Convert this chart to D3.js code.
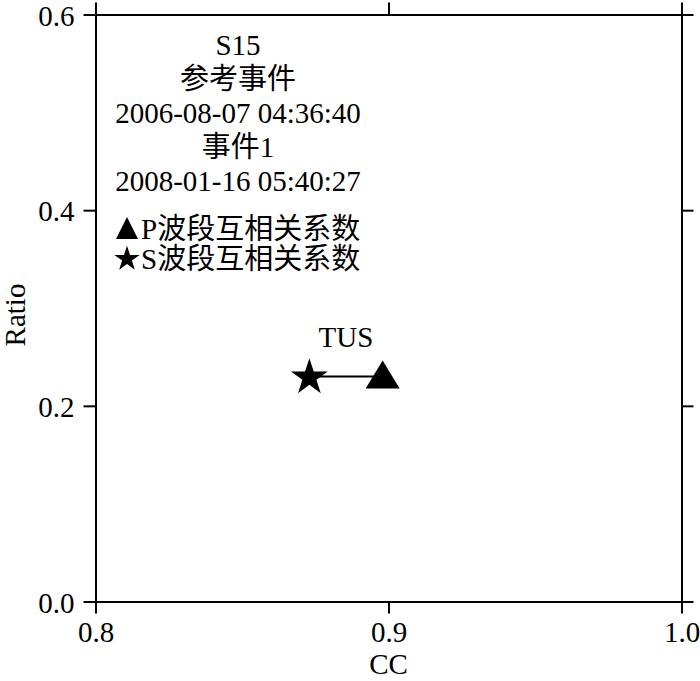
<!DOCTYPE html>
<html>
<head>
<meta charset="utf-8">
<script src="https://cdn.jsdelivr.net/npm/d3@7"></script>
<style>
  body { margin: 0; background: #fff; }
  text { font-family: "Liberation Serif", "Times New Roman", "Noto Sans CJK SC", serif; fill: #000; }
</style>
</head>
<body>
<div id="chart"></div>
<script>
// station values
var stations = ["TUS"];
var ccP = [0.898];     // P wave cross-correlation
var ccS = [0.873];     // S wave cross-correlation
var ratio = [0.230];

var xTicks = [0.8, 0.9, 1.0];
var yTicks = [0.0, 0.2, 0.4, 0.6];

var infoLines = ["S15", "参考事件", "2006-08-07 04:36:40", "事件1", "2008-01-16 05:40:27"];
var legendLabels = ["P波段互相关系数", "S波段互相关系数"];

// set the dimensions and margins of the graph
var margin = { top: 14.5, right: 18.5, bottom: 79.5, left: 95.5 },
  width = 700 - margin.left - margin.right,
  height = 681 - margin.top - margin.bottom;

var svg = d3.select("#chart")
  .append("svg")
  .attr("width", 700)
  .attr("height", 681)
  .append("g")
  .attr("transform", "translate(" + margin.left + "," + margin.top + ")");

var x = d3.scaleLinear().domain([0.8, 1.0]).range([0, width]);
var y = d3.scaleLinear().domain([0, 0.6]).range([height, 0]);

var fmt = d3.format(".1f");
var fs = "29px";

function styleAxis(g) {
  g.select(".domain").attr("stroke-width", 2);
  g.selectAll(".tick line").attr("stroke-width", 2);
  g.selectAll(".tick text").style("font-size", fs)
    .style("font-family", "'Liberation Serif', 'Times New Roman', serif");
}

// bottom / left with labels
svg.append("g")
  .attr("transform", "translate(0," + height + ")")
  .call(d3.axisBottom(x).tickValues(xTicks).tickFormat(fmt).tickSize(12).tickSizeOuter(0))
  .call(styleAxis)
  .selectAll(".tick text").attr("y", 40).attr("dy", 0);

svg.append("g")
  .call(d3.axisLeft(y).tickValues(yTicks).tickFormat(fmt).tickSize(12).tickSizeOuter(0).tickPadding(9))
  .call(styleAxis)
  .selectAll(".tick text").attr("dy", "0.37em");

// top / right frame, ticks only
svg.append("g")
  .call(d3.axisTop(x).tickValues(xTicks).tickFormat("").tickSize(12).tickSizeOuter(0))
  .call(styleAxis);

svg.append("g")
  .attr("transform", "translate(" + width + ",0)")
  .call(d3.axisRight(y).tickValues(yTicks).tickFormat("").tickSize(12).tickSizeOuter(0))
  .call(styleAxis);

// axis titles
svg.append("text")
  .attr("x", width / 2)
  .attr("y", height + 72.5)
  .attr("text-anchor", "middle")
  .style("font-size", fs)
  .text("CC");

svg.append("text")
  .attr("transform", "translate(" + (25 - margin.left) + "," + (height / 2 + 7) + ") rotate(-90)")
  .attr("text-anchor", "middle")
  .style("font-size", fs)
  .text("Ratio");

// marker shapes
var triPath = "M0,-16L17,12L-17,12Z";
var starPath = d3.symbol().type(d3.symbolStar).size(420)();

// connecting lines
svg.selectAll(".pair")
  .data(stations)
  .enter()
  .append("line")
  .attr("class", "pair")
  .attr("x1", function (d, i) { return x(ccS[i]); })
  .attr("x2", function (d, i) { return x(ccP[i]); })
  .attr("y1", function (d, i) { return y(ratio[i]); })
  .attr("y2", function (d, i) { return y(ratio[i]); })
  .attr("stroke", "#000")
  .attr("stroke-width", 2);

svg.selectAll(".tri")
  .data(stations)
  .enter()
  .append("path")
  .attr("class", "tri")
  .attr("d", triPath)
  .attr("transform", function (d, i) { return "translate(" + x(ccP[i]) + "," + y(ratio[i]) + ")"; })
  .attr("fill", "#000");

svg.selectAll(".star")
  .data(stations)
  .enter()
  .append("path")
  .attr("class", "star")
  .attr("d", starPath)
  .attr("transform", function (d, i) { return "translate(" + x(ccS[i]) + "," + (y(ratio[i]) + 1) + ")"; })
  .attr("fill", "#000");

svg.selectAll(".stlabel")
  .data(stations)
  .enter()
  .append("text")
  .attr("class", "stlabel")
  .attr("x", function (d, i) { return (x(ccS[i]) + x(ccP[i])) / 2; })
  .attr("y", function (d, i) { return y(ratio[i]) - 29; })
  .attr("text-anchor", "middle")
  .style("font-size", fs)
  .text(function (d) { return d; });

// info block
svg.selectAll(".info")
  .data(infoLines)
  .enter()
  .append("text")
  .attr("class", "info")
  .attr("x", 238 - margin.left)
  .attr("y", function (d, i) { return 55 - margin.top + i * 34; })
  .attr("text-anchor", "middle")
  .style("font-size", fs)
  .text(function (d) { return d; });

// legend
var legend = svg.selectAll(".leg")
  .data(legendLabels)
  .enter()
  .append("g")
  .attr("class", "leg")
  .attr("transform", function (d, i) { return "translate(" + (127 - margin.left) + "," + (229 - margin.top + i * 30) + ")"; });

legend.append("path")
  .attr("d", function (d, i) {
    return i === 0 ? "M0,-12L11,10L-11,10Z" : d3.symbol().type(d3.symbolStar).size(200)();
  })
  .attr("fill", "#000");

legend.append("text")
  .attr("x", 14)
  .attr("y", 10)
  .style("font-size", fs)
  .text(function (d) { return d; });
</script>
</body>
</html>
